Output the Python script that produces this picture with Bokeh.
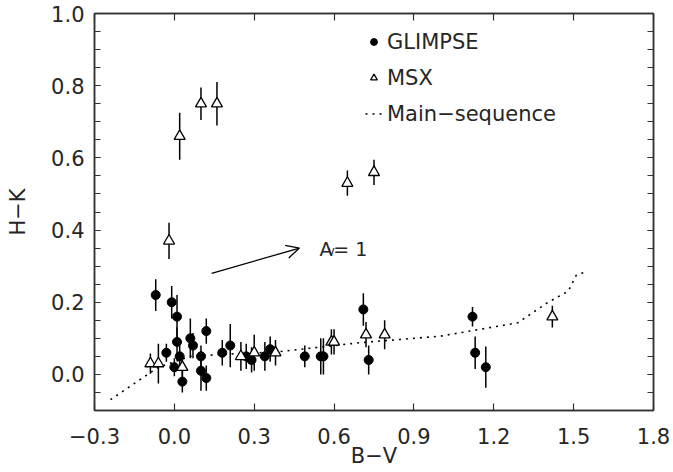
import numpy as np
from bokeh.plotting import figure
from bokeh.models import (ColumnDataSource, FixedTicker, LinearAxis, Range1d,
                          CustomJSTickFormatter, Arrow, OpenHead, Legend, LegendItem)
from bokeh.core.properties import value
from bokeh.embed import file_html
from bokeh.resources import INLINE

# ---- data ----
glimpse_bv = [-0.07, -0.01, 0.01, 0.01, 0.02, -0.03, 0.00, 0.03, 0.06, 0.07, 0.12, 0.10, 0.10, 0.12,
              0.18, 0.21, 0.27, 0.29, 0.34, 0.36, 0.49, 0.55, 0.56, 0.71, 0.73, 1.12, 1.13, 1.17]
glimpse_hk = [0.22, 0.20, 0.16, 0.09, 0.05, 0.06, 0.02, -0.02, 0.10, 0.08, 0.12, 0.05, 0.01, -0.01,
              0.06, 0.08, 0.05, 0.04, 0.05, 0.07, 0.05, 0.05, 0.05, 0.18, 0.04, 0.16, 0.06, 0.02]
glimpse_err = [0.044, 0.045, 0.06, 0.04, 0.04, 0.025, 0.025, 0.03, 0.055, 0.035, 0.035, 0.03, 0.055, 0.035,
               0.035, 0.06, 0.035, 0.035, 0.04, 0.035, 0.03, 0.05, 0.05, 0.045, 0.04, 0.027, 0.045, 0.057]

msx_bv = [-0.09, -0.06, 0.03, -0.02, 0.02, 0.10, 0.16, 0.25, 0.30, 0.38, 0.59, 0.60, 0.65, 0.75,
          0.72, 0.79, 1.42]
msx_hk = [0.03, 0.03, 0.02, 0.37, 0.66, 0.75, 0.75, 0.05, 0.06, 0.06, 0.09, 0.09, 0.53, 0.56,
          0.11, 0.11, 0.16]
msx_err = [0.028, 0.055, 0.03, 0.05, 0.065, 0.045, 0.06, 0.04, 0.05, 0.035, 0.035, 0.035, 0.035, 0.035,
           0.035, 0.04, 0.03]

ms_bv = [-0.24, -0.06, 0.06, 0.19, 0.38, 0.70, 1.00, 1.29, 1.40, 1.48, 1.51, 1.54]
ms_hk = [-0.07, 0.02, 0.05, 0.056, 0.062, 0.088, 0.106, 0.143, 0.198, 0.231, 0.275, 0.283]

x_ticks = [-0.3, 0.0, 0.3, 0.6, 0.9, 1.2, 1.5, 1.8]
y_ticks = [0.0, 0.2, 0.4, 0.6, 0.8, 1.0]
y_minor = [round(-0.1 + 0.05 * i, 2) for i in range(23)]

x_title = "B\u2212V"
y_title = "H\u2212K"

av_vector_bv = [0.14, 0.47]
av_vector_hk = [0.28, 0.35]

FONT = "DejaVu Sans"
INK = "#262626"
AX = "#333333"

p = figure(width=673, height=472, x_range=Range1d(-0.3, 1.8), y_range=Range1d(-0.1, 1.0),
           output_backend="svg", toolbar_location=None,
           min_border_left=94, min_border_right=20, min_border_top=13, min_border_bottom=62)
p.grid.visible = False
p.outline_line_color = AX
p.outline_line_width = 1.5

fmt = CustomJSTickFormatter(code="return (tick < -1e-9 ? '\u2212' : '') + Math.abs(tick).toFixed(1);")
blank = CustomJSTickFormatter(code="return '';")
xt = FixedTicker(ticks=x_ticks, minor_ticks=[])
yt = FixedTicker(ticks=y_ticks, minor_ticks=y_minor)

def style(ax, labels=True):
    ax.axis_line_color = AX
    ax.axis_line_width = 1.5
    ax.major_tick_line_color = AX
    ax.minor_tick_line_color = AX
    ax.major_tick_line_width = 1.2
    ax.minor_tick_line_width = 1.2
    ax.major_tick_out = 0
    ax.minor_tick_out = 0
    ax.major_label_text_font = FONT
    ax.major_label_text_color = INK
    ax.major_label_text_font_size = "21px" if labels else "1px"
    ax.axis_label_text_font = FONT
    ax.axis_label_text_font_style = "normal"
    ax.axis_label_text_color = INK
    ax.axis_label_text_font_size = "21px"

xa = p.xaxis[0]
xa.ticker = xt
xa.formatter = fmt
style(xa)
xa.major_tick_in = 7
xa.major_label_standoff = 17
xa.axis_label = x_title
xa.axis_label_standoff = -3

ya = p.yaxis[0]
ya.ticker = yt
ya.formatter = fmt
style(ya)
ya.major_tick_in = 6
ya.minor_tick_in = 6
ya.major_label_standoff = 10
ya.axis_label = y_title
ya.axis_label_standoff = 18

top = LinearAxis(ticker=xt, formatter=blank)
style(top, labels=False)
top.major_tick_in = 7
top.major_label_standoff = 0
top.axis_label_standoff = 0
p.add_layout(top, "above")

right = LinearAxis(ticker=yt, formatter=blank)
style(right, labels=False)
right.major_tick_in = 6
right.minor_tick_in = 6
right.major_label_standoff = 0
right.axis_label_standoff = 0
p.add_layout(right, "right")

g = ColumnDataSource(dict(x=glimpse_bv, y=glimpse_hk,
                          lo=list(np.array(glimpse_hk) - np.array(glimpse_err)),
                          hi=list(np.array(glimpse_hk) + np.array(glimpse_err))))
m = ColumnDataSource(dict(x=msx_bv, y=msx_hk,
                          lo=list(np.array(msx_hk) - np.array(msx_err)),
                          hi=list(np.array(msx_hk) + np.array(msx_err))))

p.segment(x0="x", y0="lo", x1="x", y1="hi", source=g, line_color="black", line_width=1.5)
p.segment(x0="x", y0="lo", x1="x", y1="hi", source=m, line_color="black", line_width=1.5)

r_ms = p.line(ms_bv, ms_hk, line_color="black", line_width=1.6, line_dash="2 5")
r_g = p.scatter("x", "y", source=g, marker="circle", size=9, fill_color="black", line_color="black")
r_m = p.scatter("x", "y", source=m, marker="triangle", size=11, fill_color="white",
                line_color="black", line_width=1.3)

p.add_layout(Arrow(end=OpenHead(size=13, line_width=1.3, line_color="black"),
                   x_start=av_vector_bv[0], y_start=av_vector_hk[0],
                   x_end=av_vector_bv[1], y_end=av_vector_hk[1],
                   line_width=1.3, line_color="black"))

p.text(x=[0.545], y=[0.348], text=["A"], text_font=value(FONT), text_font_size="19px",
       text_color=INK, text_baseline="alphabetic", text_align="left")
p.text(x=[0.576], y=[0.3406], text=["v"], text_font=value(FONT), text_font_size="12px",
       text_color=INK, text_baseline="alphabetic", text_align="left")
p.text(x=[0.597], y=[0.348], text=["= 1"], text_font=value(FONT), text_font_size="19px",
       text_color=INK, text_baseline="alphabetic", text_align="left")

legend = Legend(items=[LegendItem(label="GLIMPSE", renderers=[r_g]),
                       LegendItem(label="MSX", renderers=[r_m]),
                       LegendItem(label="Main\u2212sequence", renderers=[r_ms])],
                location=(271, 284), padding=0, margin=0, spacing=11,
                glyph_width=17, glyph_height=25, label_height=25, label_standoff=5,
                label_text_font=FONT, label_text_font_size="21px", label_text_color=INK,
                border_line_color=None, background_fill_alpha=0)
p.add_layout(legend)

open("out.html", "w").write(file_html(p, INLINE))
